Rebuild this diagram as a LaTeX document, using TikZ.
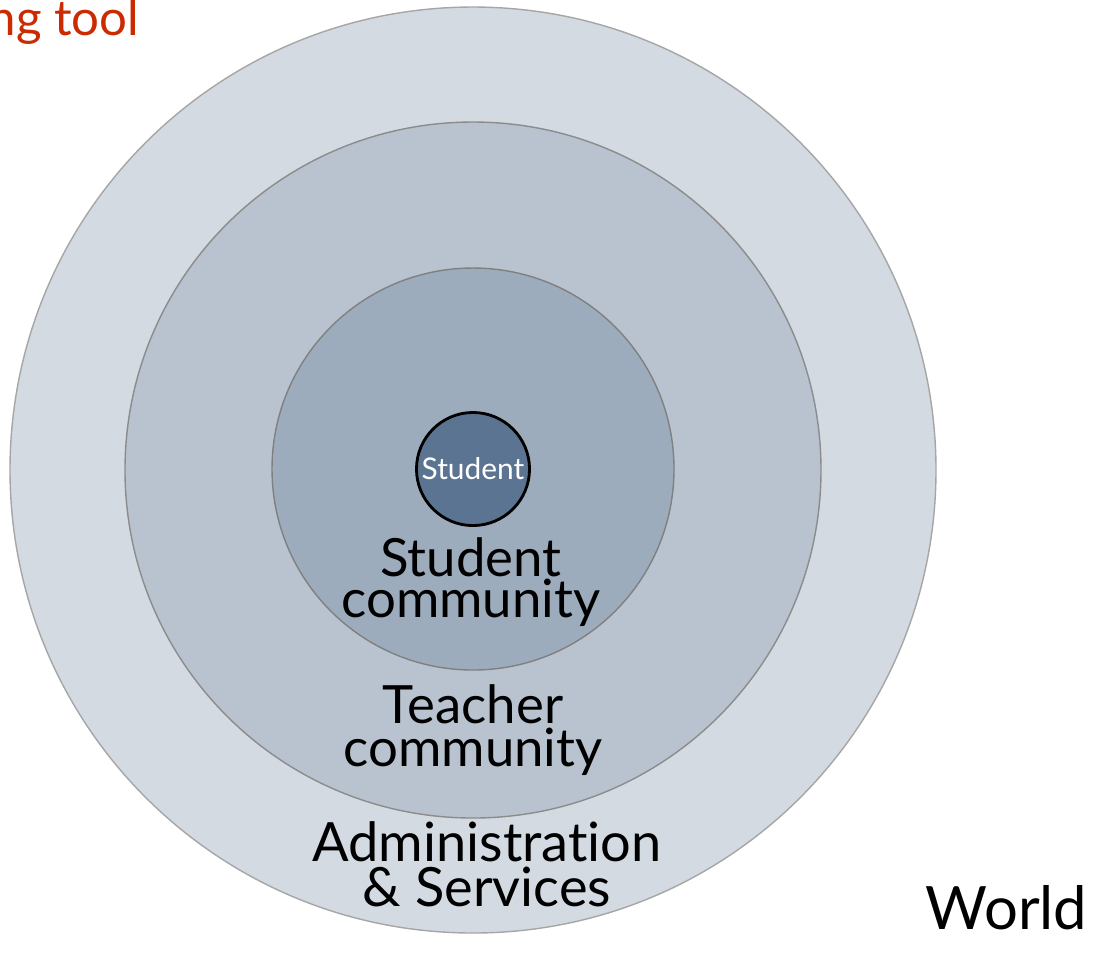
\documentclass[tikz,border=0pt]{standalone}
\usepackage{fontspec}
\setmainfont{Lato}[Ligatures=NoCommon]
\usepackage{tikz}

\definecolor{worldgray}{HTML}{D3DAE2}
\definecolor{admingray}{HTML}{B8C3CF}
\definecolor{teachgray}{HTML}{9DACBC}
\definecolor{corblue}{HTML}{5B7491}
\definecolor{titlered}{HTML}{CC2A00}

\begin{document}
\begin{tikzpicture}[x=0.01cm,y=-0.01cm,
    lbl/.style={align=center,inner sep=0pt,anchor=base,font=\fontsize{15}{11.6}\selectfont}]
      \useasboundingbox (0,0) rectangle (1100,959);

      \filldraw [fill=worldgray, draw=black!35] (473,470) circle (463);
      \filldraw [fill=admingray, draw=black!45] (473,470) circle (348);
      \filldraw [fill=teachgray, draw=black!50] (473,469) circle (201);

      \node [circle, fill=corblue, draw=black, thick, minimum size=1.13cm, inner sep=0pt,
             text=white, font=\fontsize{8.5}{9}\selectfont] (student) at (473,469) {Student};

      % base anchor sits on the last line
      \node [lbl] (stucom) at (471,617) {Student\\community};
      \node [lbl, font=\fontsize{15}{12}\selectfont] (teacom) at (473,766) {Teacher\\community};
      \node [lbl, font=\fontsize{15.4}{12.6}\selectfont] (admin) at (487,906)
            {Administration\\\& Services};
      \node [anchor=base east, inner sep=0pt, font=\fontsize{17}{20}\selectfont] (world) at (1088,929) {World};
      \node [anchor=base east, inner sep=0pt, text=titlered, font=\fontsize{14}{16}\selectfont] (title) at (140,35) {ng tool};
\end{tikzpicture}
\end{document}
